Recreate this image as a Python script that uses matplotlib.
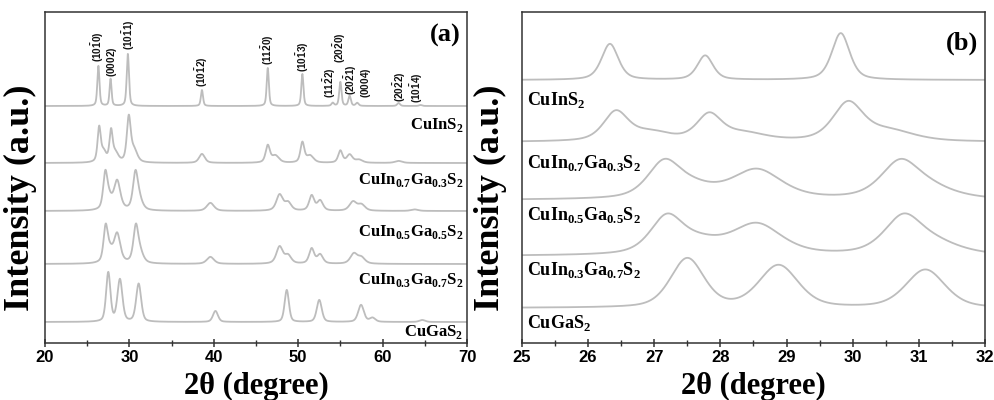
import numpy as np
import matplotlib
matplotlib.use("Agg")
import matplotlib.pyplot as plt
from matplotlib.ticker import MultipleLocator

plt.rcParams['mathtext.fontset'] = 'custom'
plt.rcParams['mathtext.rm'] = 'Liberation Serif:bold'
plt.rcParams['mathtext.bf'] = 'Liberation Serif:bold'
plt.rcParams['mathtext.sf'] = 'Liberation Sans:bold'

# samples, top to bottom
names = ['CuInS$_2$',
         'CuIn$_{0.7}$Ga$_{0.3}$S$_2$',
         'CuIn$_{0.5}$Ga$_{0.5}$S$_2$',
         'CuIn$_{0.3}$Ga$_{0.7}$S$_2$',
         'CuGaS$_2$']

# fitted reflections of each pattern: 2theta (deg), height (a.u.), fwhm (deg)
peaks_cis = [(26.33, 40, 0.30), (27.77, 27, 0.28), (29.82, 52, 0.32), (38.6, 16, 0.30),
             (46.4, 38, 0.30), (50.5, 32, 0.30), (54.1, 3, 0.35), (55.0, 24, 0.32),
             (56.1, 10, 0.35), (57.0, 3, 0.4), (61.9, 3, 0.4), (64.5, 1, 0.4)]
peaks_g03 = [(26.42, 34, 0.45), (26.95, 10, 0.7), (27.83, 30, 0.45), (28.35, 9, 0.8),
             (29.93, 44, 0.55), (30.55, 12, 0.9), (38.6, 9, 0.8), (46.4, 17, 0.6),
             (47.3, 7, 1.0), (50.5, 20, 0.55), (51.4, 7, 1.0), (55.0, 12, 0.6),
             (56.1, 8, 0.8), (57.2, 3, 1.0), (61.9, 2, 1.0)]
peaks_g05 = [(27.15, 35, 0.6), (27.6, 10, 0.8), (28.55, 29, 0.9), (30.72, 36, 0.7),
             (31.2, 9, 0.9), (39.6, 8, 1.0), (47.8, 16, 0.9), (48.8, 8, 0.9),
             (51.6, 15, 0.7), (52.6, 10, 0.8), (56.5, 9, 1.0), (57.5, 6, 1.0),
             (63.8, 1.5, 1.0)]
peaks_g07 = [(27.19, 35, 0.6), (27.7, 10, 0.8), (28.55, 29, 0.9), (30.77, 36, 0.7),
             (31.3, 9, 0.9), (39.6, 7, 1.0), (47.8, 17, 0.9), (48.8, 8, 0.9),
             (51.6, 15, 0.7), (52.6, 9, 0.8), (56.6, 10, 1.0), (57.5, 6, 1.0)]
peaks_cgs = [(27.5, 49, 0.6), (28.88, 42, 0.7), (31.1, 38, 0.7), (40.2, 11, 0.7),
             (48.65, 32, 0.6), (52.5, 22, 0.7), (57.45, 17, 0.8), (58.8, 4, 0.8),
             (64.7, 2, 0.8)]
all_peaks = [peaks_cis, peaks_g03, peaks_g05, peaks_g07, peaks_cgs]
lorentz_frac = [0.5, 0.55, 0.55, 0.55, 0.4]

# hexagonal (wurtzite) indexing of CuInS2
hkl = [r'(10\bar{1}0)', '(0002)', r'(10\bar{1}1)', r'(10\bar{1}2)',
       r'(11\bar{2}0)', r'(10\bar{1}3)', r'(11\bar{2}2)', r'(20\bar{2}0)',
       r'(20\bar{2}1)', '(0004)', r'(20\bar{2}2)', r'(10\bar{1}4)']
hkl_pos = [26.3, 27.9, 29.9, 38.6, 46.4, 50.6, 53.7, 54.9, 56.25, 58.05, 62.0, 64.1]
hkl_y = [281, 266, 293, 256, 278, 271, 245, 280, 248, 245, 241, 240]

# vertical stacking
offset_a = [237, 180, 132, 79, 21]
offset_b = [263, 201, 143, 87, 35]
scale_b = [0.9, 0.85, 1.0, 1.05, 1.0]
label_y_a = [218, 163, 111, 63, 11]
label_y_b = [243, 180, 128, 73, 20]


def pattern(x, peaks, eta):
    y = np.zeros_like(x)
    for c, h, w in peaks:
        d = (x - c) / w
        lor = 1.0 / (1.0 + 4.0 * d ** 2)
        gau = np.exp(-4.0 * np.log(2) * d ** 2)
        y += h * (eta * lor + (1 - eta) * gau)
    return y


line_col = '#bdbdbd'
serif = 'Liberation Serif'
sans = 'Liberation Sans'

fig = plt.figure(figsize=(9.95, 4.0), dpi=100)
ax1 = fig.add_axes([0.0452, 0.1425, 0.4241, 0.8275])
ax2 = fig.add_axes([0.5246, 0.1425, 0.4653, 0.8275])

xa = np.linspace(20, 70, 5001)
xb = np.linspace(25, 32, 3001)
for i in range(5):
    ya = pattern(xa, all_peaks[i], lorentz_frac[i])
    ax1.plot(xa, ya + offset_a[i], color=line_col, lw=1.3)
    ax1.text(69.6, label_y_a[i], names[i], ha='right', va='center',
             family=serif, weight='bold', fontsize=12)
    yb = pattern(xb, all_peaks[i], lorentz_frac[i])
    ax2.plot(xb, yb * scale_b[i] + offset_b[i], color=line_col, lw=1.3)
    ax2.text(25.08, label_y_b[i], names[i], ha='left', va='center',
             family=serif, weight='bold', fontsize=13)

for lab, px, py in zip(hkl, hkl_pos, hkl_y):
    ax1.text(px, py, r'$\mathsf{' + lab + '}$', rotation=90,
             ha='center', va='bottom', fontsize=7.2, color='#111111')

ax1.text(0.985, 0.965, '(a)', transform=ax1.transAxes, ha='right', va='top',
         family=serif, weight='bold', fontsize=19)
ax2.text(0.985, 0.94, '(b)', transform=ax2.transAxes, ha='right', va='top',
         family=serif, weight='bold', fontsize=19)

for ax, lo, hi, major, minor in [(ax1, 20, 70, 10, 5), (ax2, 25, 32, 1, 0.5)]:
    ax.set_xlim(lo, hi)
    ax.set_ylim(0, 331)
    ax.xaxis.set_major_locator(MultipleLocator(major))
    ax.xaxis.set_minor_locator(MultipleLocator(minor))
    ax.set_yticks([])
    ax.tick_params(axis='x', which='major', direction='inout', length=6,
                   width=1.1, color='#333333', pad=2)
    ax.tick_params(axis='x', which='minor', direction='inout', length=4,
                   width=1.0, color='#333333')
    for lbl in ax.get_xticklabels():
        lbl.set_family(sans)
        lbl.set_weight('bold')
        lbl.set_fontsize(12)
    for sp in ax.spines.values():
        sp.set_color('#333333')
        sp.set_linewidth(1.1)
    ax.set_xlabel('2θ (degree)', family=serif, weight='bold', fontsize=22,
                  labelpad=5)
    ax.set_ylabel('Intensity (a.u.)', family=serif, weight='bold', fontsize=26)

ax1.yaxis.set_label_coords(-0.019, 0.44)
ax2.yaxis.set_label_coords(-0.032, 0.44)

fig.savefig('out.png', dpi=100)
